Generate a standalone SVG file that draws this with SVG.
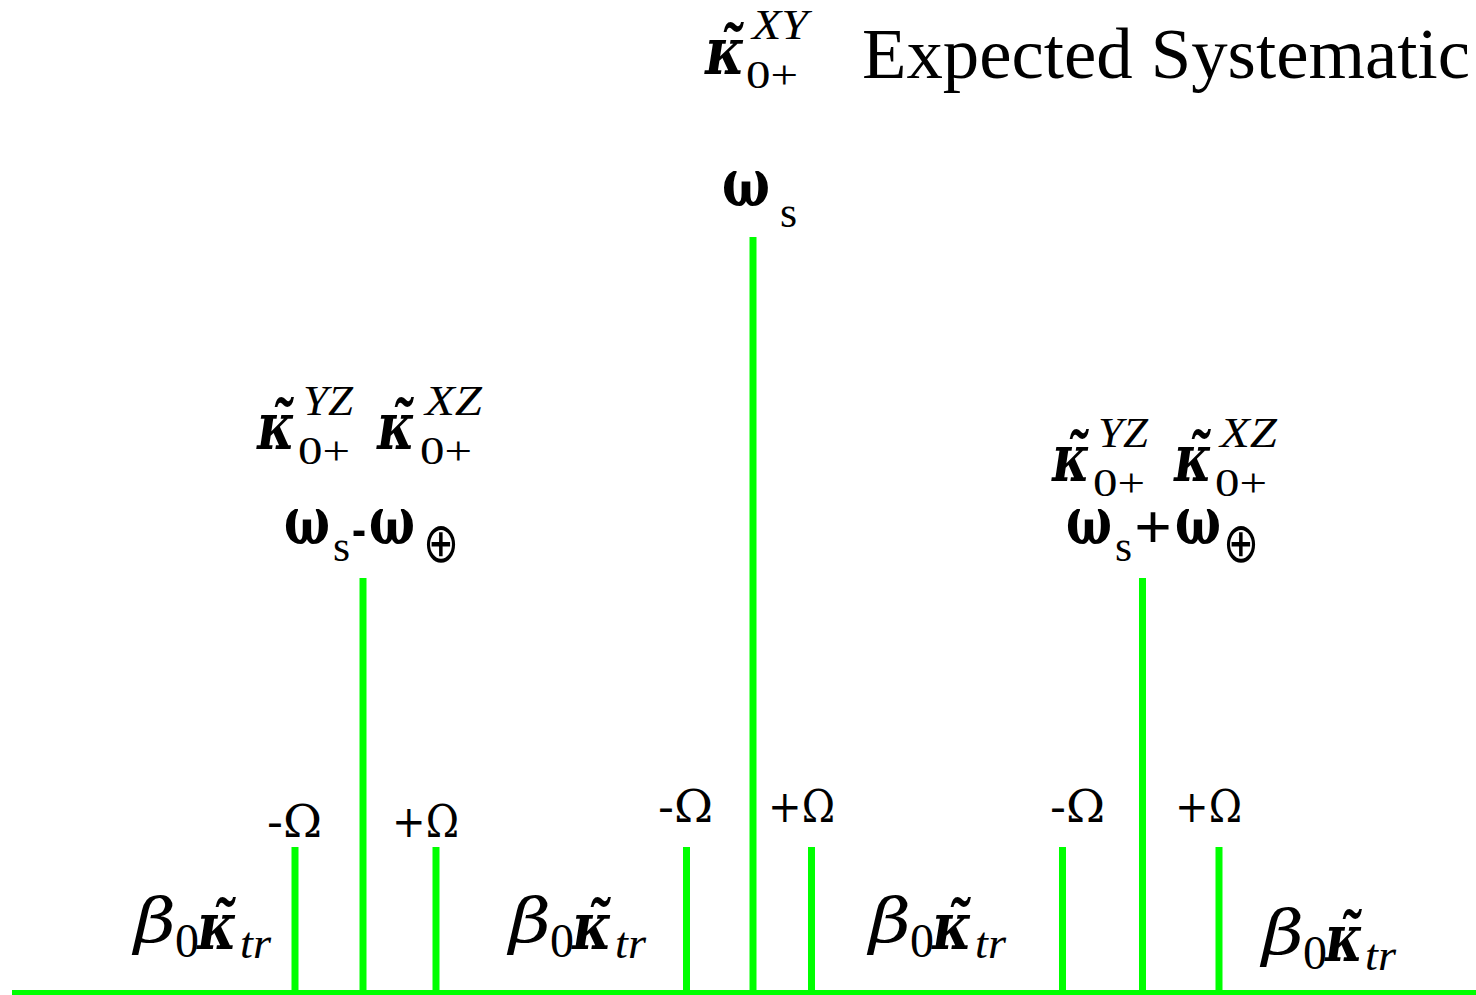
<svg xmlns="http://www.w3.org/2000/svg" width="1476" height="995" viewBox="0 0 1476 995">
<style>
text{font-family:"Liberation Serif","Times New Roman",serif;fill:#000}
.big{font-size:72px}
.k{font-family:"DejaVu Serif",serif;font-size:66px;font-style:italic;font-weight:bold}
.sup{font-size:42px;font-style:italic}
.sub{font-size:40px}
.om{font-family:"DejaVu Serif",serif;font-size:68px;font-weight:bold}
.os{font-size:44px}
.op{font-family:"DejaVu Sans",sans-serif;font-size:56px}
.sign{font-size:64px;font-weight:bold}
.Om{font-family:"DejaVu Serif",serif;font-size:44px}
.beta{font-family:"DejaVu Serif",serif;font-size:62px;font-style:italic}
.b0{font-size:48px}
.tr{font-size:44px;font-style:italic}
.ln{stroke:#00ff00;stroke-width:7;fill:none}
.base{stroke:#00ff00;stroke-width:5;fill:none}
</style>
<rect width="1476" height="995" fill="#fff"/>
<g id="connectors">
<line class="base" x1="12" y1="992.5" x2="1476" y2="992.5"/>
<line class="ln" x1="295" y1="847" x2="295" y2="992"/>
<line class="ln" x1="363" y1="578" x2="363" y2="992"/>
<line class="ln" x1="436" y1="847" x2="436" y2="992"/>
<line class="ln" x1="686.5" y1="847" x2="686.5" y2="992"/>
<line class="ln" x1="753" y1="237" x2="753" y2="992"/>
<line class="ln" x1="811.5" y1="847" x2="811.5" y2="992"/>
<line class="ln" x1="1062.5" y1="847" x2="1062.5" y2="992"/>
<line class="ln" x1="1142.5" y1="578" x2="1142.5" y2="992"/>
<line class="ln" x1="1219" y1="847" x2="1219" y2="992"/>
</g>
<g id="title">
<text><tspan class="k" x="705" y="74" textLength="40" lengthAdjust="spacingAndGlyphs">κ̃</tspan><tspan class="sup" x="752" y="39" textLength="56" lengthAdjust="spacingAndGlyphs">XY</tspan><tspan class="sub" x="746" y="88" textLength="52" lengthAdjust="spacingAndGlyphs">0+</tspan></text>
<text class="big" x="862" y="78" textLength="608" lengthAdjust="spacingAndGlyphs">Expected Systematic</text>
</g>
<g id="center-peak">
<text><tspan class="om" x="722" y="206" textLength="48" lengthAdjust="spacingAndGlyphs">ω</tspan><tspan class="os" x="780" y="227">s</tspan></text>
</g>
<g id="left-peak">
<text><tspan class="k" x="257" y="449" textLength="38" lengthAdjust="spacingAndGlyphs">κ̃</tspan><tspan class="sup" x="303" y="415" textLength="50" lengthAdjust="spacingAndGlyphs">YZ</tspan><tspan class="sub" x="298" y="464" textLength="52" lengthAdjust="spacingAndGlyphs">0+</tspan><tspan class="k" x="377" y="449" textLength="38" lengthAdjust="spacingAndGlyphs">κ̃</tspan><tspan class="sup" x="425" y="415" textLength="57" lengthAdjust="spacingAndGlyphs">XZ</tspan><tspan class="sub" x="420" y="464" textLength="52" lengthAdjust="spacingAndGlyphs">0+</tspan></text>
<text><tspan class="om" x="284" y="544" textLength="46" lengthAdjust="spacingAndGlyphs">ω</tspan><tspan class="os" x="333" y="561">s</tspan><tspan class="sign" x="352" y="548" textLength="14" lengthAdjust="spacingAndGlyphs">-</tspan><tspan class="om" x="369" y="544" textLength="46" lengthAdjust="spacingAndGlyphs">ω</tspan><tspan class="op" x="423" y="562" textLength="36" lengthAdjust="spacingAndGlyphs">⊕</tspan></text>
</g>
<g id="right-peak">
<text><tspan class="k" x="1052" y="481" textLength="38" lengthAdjust="spacingAndGlyphs">κ̃</tspan><tspan class="sup" x="1098" y="447" textLength="50" lengthAdjust="spacingAndGlyphs">YZ</tspan><tspan class="sub" x="1093" y="496" textLength="52" lengthAdjust="spacingAndGlyphs">0+</tspan><tspan class="k" x="1174" y="481" textLength="38" lengthAdjust="spacingAndGlyphs">κ̃</tspan><tspan class="sup" x="1220" y="447" textLength="57" lengthAdjust="spacingAndGlyphs">XZ</tspan><tspan class="sub" x="1215" y="496" textLength="52" lengthAdjust="spacingAndGlyphs">0+</tspan></text>
<text><tspan class="om" x="1066" y="544" textLength="46" lengthAdjust="spacingAndGlyphs">ω</tspan><tspan class="os" x="1115" y="561">s</tspan><tspan class="sign" x="1134" y="548" textLength="38" lengthAdjust="spacingAndGlyphs">+</tspan><tspan class="om" x="1175" y="544" textLength="46" lengthAdjust="spacingAndGlyphs">ω</tspan><tspan class="op" x="1223" y="562" textLength="36" lengthAdjust="spacingAndGlyphs">⊕</tspan></text>
</g>
<g id="sidebands">
<text class="Om" x="267" y="837" textLength="55" lengthAdjust="spacingAndGlyphs">-Ω</text>
<text class="Om" x="392" y="837" textLength="67" lengthAdjust="spacingAndGlyphs">+Ω</text>
<text class="Om" x="658" y="822" textLength="55" lengthAdjust="spacingAndGlyphs">-Ω</text>
<text class="Om" x="768" y="822" textLength="67" lengthAdjust="spacingAndGlyphs">+Ω</text>
<text class="Om" x="1050" y="822" textLength="55" lengthAdjust="spacingAndGlyphs">-Ω</text>
<text class="Om" x="1175" y="822" textLength="67" lengthAdjust="spacingAndGlyphs">+Ω</text>
</g>
<g id="beta1">
<text><tspan class="beta" x="134" y="942" textLength="42" lengthAdjust="spacingAndGlyphs">β</tspan><tspan class="b0" x="175" y="957">0</tspan><tspan class="k" x="197" y="949" textLength="40" lengthAdjust="spacingAndGlyphs">κ̃</tspan><tspan class="tr" x="240" y="958" textLength="31" lengthAdjust="spacingAndGlyphs">tr</tspan></text>
</g>
<g id="beta2">
<text><tspan class="beta" x="509" y="942" textLength="42" lengthAdjust="spacingAndGlyphs">β</tspan><tspan class="b0" x="550" y="957">0</tspan><tspan class="k" x="572" y="949" textLength="40" lengthAdjust="spacingAndGlyphs">κ̃</tspan><tspan class="tr" x="615" y="958" textLength="31" lengthAdjust="spacingAndGlyphs">tr</tspan></text>
</g>
<g id="beta3">
<text><tspan class="beta" x="869" y="942" textLength="42" lengthAdjust="spacingAndGlyphs">β</tspan><tspan class="b0" x="910" y="957">0</tspan><tspan class="k" x="932" y="949" textLength="40" lengthAdjust="spacingAndGlyphs">κ̃</tspan><tspan class="tr" x="975" y="958" textLength="31" lengthAdjust="spacingAndGlyphs">tr</tspan></text>
</g>
<g id="beta4">
<text><tspan class="beta" x="1262" y="954" textLength="42" lengthAdjust="spacingAndGlyphs">β</tspan><tspan class="b0" x="1303" y="969">0</tspan><tspan class="k" x="1325" y="961" textLength="38" lengthAdjust="spacingAndGlyphs">κ̃</tspan><tspan class="tr" x="1365" y="970" textLength="31" lengthAdjust="spacingAndGlyphs">tr</tspan></text>
</g>
</svg>
